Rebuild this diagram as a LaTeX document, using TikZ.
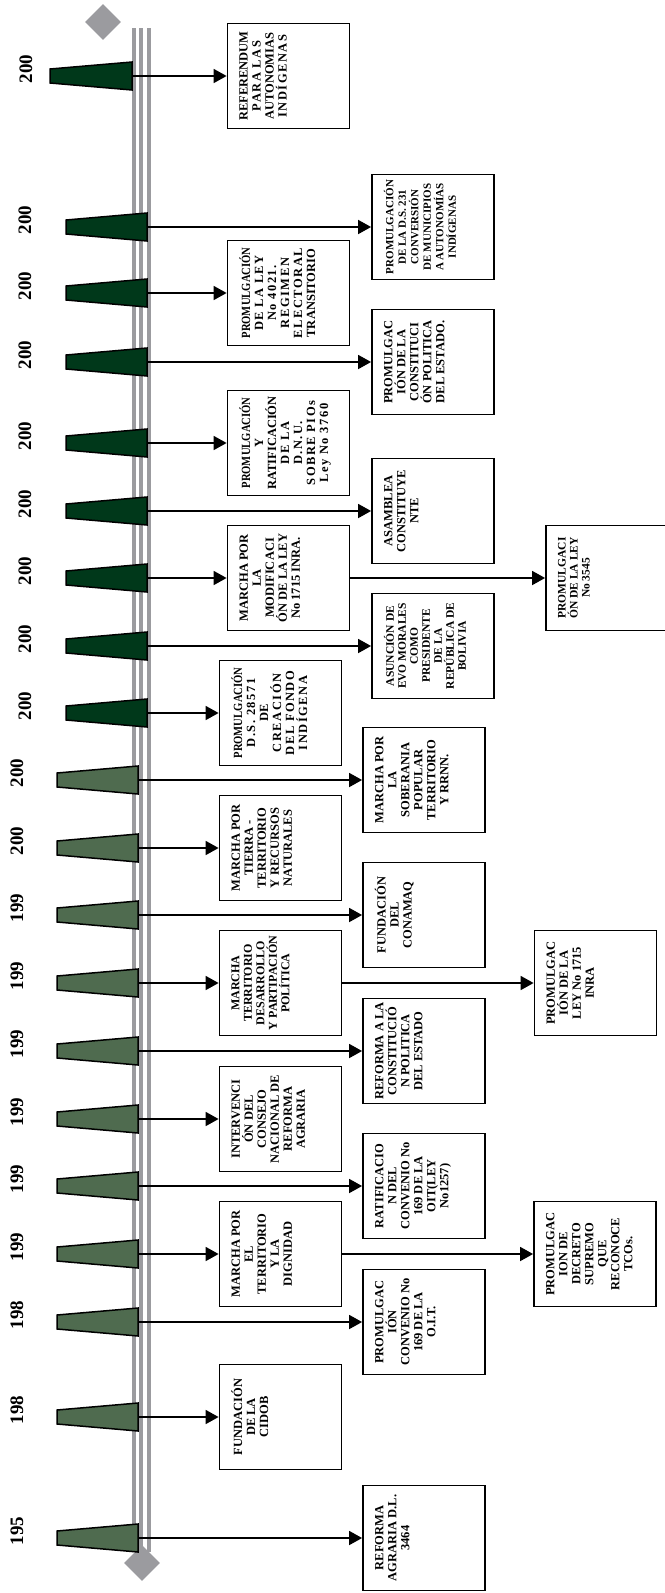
\documentclass[tikz,border=0pt]{standalone}
\usepackage{fontspec}
\setmainfont{Liberation Serif}
\usepackage{graphicx}
\usepackage{xcolor}
\usepackage{tikz}
\usetikzlibrary{arrows.meta, shapes.geometric}
\definecolor{timelineDark}{HTML}{00381A}
\definecolor{timelineLight}{HTML}{4F6B4F}
\definecolor{timelineGray}{HTML}{9B9B9F}
\newcommand\spaced[1]{{\addfontfeature{LetterSpace=12}#1}}
\newcommand\narrow[1]{\scalebox{0.85}[1]{#1}}

\begin{document}
\begin{tikzpicture}[
    x=1pt, y=-1pt,
    event/.style={rectangle, draw=black, fill=white, line width=1.8pt, rotate=90, inner sep=0pt, minimum width=105pt, minimum height=122pt, font=\bfseries\fontsize{12.5}{13}\selectfont, execute at begin node={\begin{minipage}[c][98pt][t]{104pt}\centering}, execute at end node={\end{minipage}}},
    flag/.style={draw=black, line width=1.5pt, line join=miter},
    year/.style={rotate=90, inner sep=0pt, font=\bfseries\fontsize{19}{19}\selectfont},
    axis/.style={draw=timelineGray, line width=4pt},
    ending/.style={diamond, fill=timelineGray, inner sep=0pt, minimum width=36pt, minimum height=36pt},
    arrow/.style={-{Triangle[length=13pt, width=14pt]}, line width=1.7pt}
]

\useasboundingbox (0,0) rectangle (664,1593);

% timeline
\draw[axis] (134,28) -- (134,1552);
\draw[axis] (141,28) -- (141,1552);
\draw[axis] (149,28) -- (149,1552);
\node[ending] (start) at (103,22) {};
\node[ending] (end) at (142,1563) {};

% year flags
\foreach \y/\xl/\xr/\lx/\col/\yr [count=\i] in {
    76/50/132/26/timelineDark/200, 227/66/147/25/timelineDark/200,
    293/66/147/25/timelineDark/200, 362/66/147/25/timelineDark/200,
    443/66/147/25/timelineDark/200, 511/66/147/25/timelineDark/200,
    578/66/147/25/timelineDark/200, 646/66/147/25/timelineDark/200,
    713/66/147/25/timelineDark/200, 780/57/138/17/timelineLight/200,
    848/57/138/17/timelineLight/200, 915/57/138/17/timelineLight/199,
    983/57/138/17/timelineLight/199, 1051/57/138/17/timelineLight/199,
    1119/57/138/17/timelineLight/199, 1186/57/138/17/timelineLight/199,
    1254/57/138/17/timelineLight/199, 1322/57/138/17/timelineLight/198,
    1417/57/138/17/timelineLight/198, 1538/57/138/17/timelineLight/195} {
  \draw[flag, fill=\col] (\xl,\y-7) -- (\xr,\y-14) -- (\xr,\y+14) -- (\xl,\y+7) -- cycle;
  \coordinate (m\i) at (\xr,\y);
  \node[year] (yr\i) at (\lx,\y-7) {\yr};
}

% events
\node[event] (b1) at (288.5,76) {REFERENDUM\\ \spaced{PARA LAS}\\ AUTONOMIAS\\ \spaced{INDÍGENAS}};
\node[event, font=\bfseries\fontsize{11}{12.5}\selectfont] (b2) at (433,227) {PROMULGACIÓN\\ DE LA D.S. 231\\ CONVERSIÓN\\ DE MUNICIPIOS\\ A AUTONOMÍAS\\ INDÍGENAS};
\node[event] (b3) at (288.5,293) {\narrow{PROMULGACIÓN}\\ \spaced{DE LA LEY}\\ \spaced{No 4021.}\\ \spaced{REGIMEN}\\ \spaced{ELECTORAL}\\ TRANSITORIO};
\node[event] (b4) at (433,362) {PROMULGAC\\ IÓN DE LA\\ CONSTITUCI\\ ÓN POLITICA\\ DEL ESTADO.};
\node[event] (b5) at (288.5,443) {\narrow{PROMULGACIÓN}\\ Y\\ RATIFICACIÓN\\ \spaced{DE LA}\\ \spaced{D.N.U.}\\ \spaced{SOBRE PIOs}\\ \spaced{Ley No 3760}};
\node[event] (b6) at (433,511) {ASAMBLEA\\ CONSTITUYE\\ NTE};
\node[event] (b7) at (288.5,578) {MARCHA POR\\ LA\\ MODIFICACI\\ ÓN DE LA LEY\\ No 1715 INRA.};
\node[event, font=\bfseries\fontsize{11.5}{12}\selectfont] (b8) at (433,646) {ASUNCIÓN DE\\ EVO MORALES\\ COMO\\ PRESIDENTE\\ DE LA\\ REPÚBLICA DE\\ BOLIVIA};
\node[event] (b9) at (280.5,713) {\narrow{PROMULGACIÓN}\\ \spaced{D.S. 28571}\\ DE\\ \spaced{CREACIÓN}\\ \spaced{DEL FONDO}\\ \spaced{INDÍGENA}};
\node[event] (b10) at (424,780) {MARCHA POR\\ LA\\ SOBERANIA\\ POPULAR\\ TERRITORIO\\ Y RRNN.};
\node[event] (b11) at (280.5,848) {MARCHA POR\\ TIERRA -\\ TERRITORIO\\ Y RECURSOS\\ NATURALES};
\node[event] (b12) at (424,915) {FUNDACIÓN\\ DEL\\ CONAMAQ};
\node[event, font=\bfseries\fontsize{12}{12.5}\selectfont] (b13) at (280.5,983) {MARCHA\\ TERRITORIO\\ DESARROLLO\\ Y PARTIPACIÓN\\ POLÍTICA};
\node[event] (b14) at (424,1051) {REFORMA A LA\\ CONSTITUCIÓ\\ N POLITICA\\ DEL ESTADO};
\node[event] (b15) at (280.5,1119) {INTERVENCI\\ ÓN DEL\\ CONSEJO\\ NACIONAL DE\\ REFORMA\\ AGRARIA};
\node[event] (b16) at (424,1186) {RATIFICACIO\\ N DEL\\ CONVENIO No\\ 169 DE LA\\ OIT(LEY\\ No1257)};
\node[event] (b17) at (280.5,1254) {MARCHA POR\\ EL\\ TERRITORIO\\ Y LA\\ DIGNIDAD};
\node[event] (b18) at (424,1322) {PROMULGAC\\ IÓN\\ CONVENIO No\\ 169 DE LA\\ O.I.T.};
\node[event] (b19) at (280.5,1417) {FUNDACIÓN\\ DE LA\\ CIDOB};
\node[event] (b20) at (424,1538) {REFORMA\\ AGRARIA D.L.\\ 3464};

% follow-up events
\node[event, font=\bfseries\fontsize{11.5}{12}\selectfont] (c1) at (607,578) {PROMULGACI\\ ÓN DE LA LEY\\ No 3545};
\node[event] (c2) at (595.5,983) {PROMULGAC\\ IÓN DE LA\\ LEY No 1715\\ INRA};
\node[event] (c3) at (595,1254) {PROMULGAC\\ ION DE\\ DECRETO\\ SUPREMO\\ QUE\\ RECONOCE\\ TCOs.};

\foreach \i in {1,...,20}
  \draw[arrow] (m\i) -- (m\i -| b\i.north);
\draw[arrow] (b7.south) -- (c1.north);
\draw[arrow] (b13.south) -- (c2.north);
\draw[arrow] (b17.south) -- (c3.north);

\end{tikzpicture}
\end{document}
